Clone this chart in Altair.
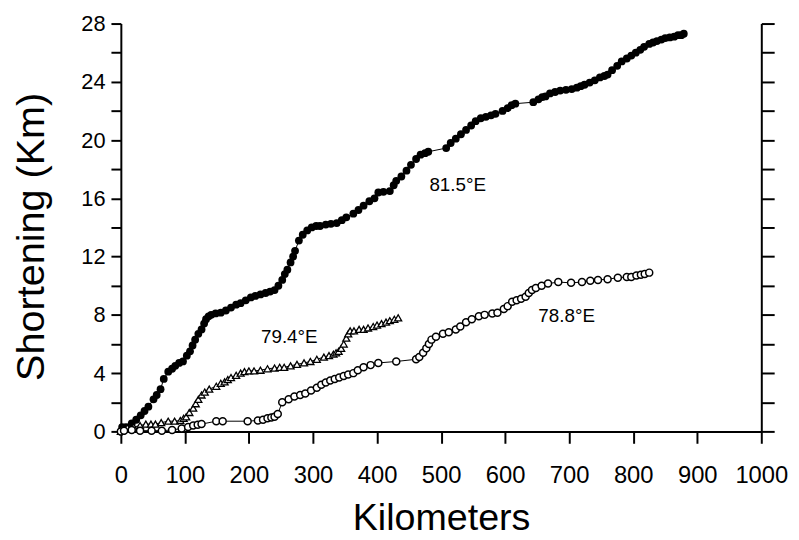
import altair as alt
import pandas as pd

FONT = "Liberation Sans"

# ---- 81.5°E (filled circles) ----
km_815 = [0, 2, 8, 17, 24, 31, 37, 43, 51, 56, 62, 67, 74, 80, 85, 91, 97, 103, 108, 112,
          116, 121, 126, 130, 133, 137, 141, 148, 156, 164, 172, 180, 187, 195, 203, 210,
          218, 226, 233, 240, 246, 252, 256, 260, 265, 269, 272, 278, 284, 291, 298, 305,
          311, 320, 328, 337, 345, 352, 363, 371, 379, 388, 396, 402, 410, 420, 426, 430,
          438, 446, 453, 461, 468, 475, 480, 508, 515, 523, 531, 539, 547, 554, 562, 570,
          578, 585, 596, 604, 610, 616, 644, 652, 658, 663, 670, 678, 686, 695, 704, 712,
          718, 724, 732, 740, 748, 755, 760, 767, 775, 782, 790, 797, 804, 811, 817, 825,
          831, 837, 844, 850, 857, 864, 870, 875, 879]
sh_815 = [0, 0.3, 0.3, 0.55, 0.8, 1.1, 1.4, 1.7, 2.2, 2.5, 2.9, 3.6, 4.1, 4.3, 4.5, 4.7, 4.8,
          5.2, 5.5, 5.9, 6.3, 6.7, 7.0, 7.4, 7.7, 7.9, 8.0, 8.1, 8.15, 8.3, 8.5, 8.7, 8.8,
          9.0, 9.2, 9.3, 9.4, 9.5, 9.6, 9.7, 10.0, 10.4, 10.8, 11.1, 11.6, 12.0, 12.4, 13.1,
          13.5, 13.8, 14.0, 14.1, 14.1, 14.2, 14.25, 14.3, 14.5, 14.7, 14.95, 15.2, 15.5,
          15.8, 16.0, 16.4, 16.45, 16.5, 16.9, 17.2, 17.5, 17.9, 18.3, 18.7, 19.0, 19.1,
          19.2, 19.45, 19.8, 20.1, 20.4, 20.7, 21.0, 21.3, 21.5, 21.6, 21.7, 21.8, 22.0,
          22.2, 22.4, 22.5, 22.6, 22.8, 22.95, 23.0, 23.2, 23.3, 23.4, 23.45, 23.5, 23.6,
          23.7, 23.8, 23.95, 24.1, 24.3, 24.4, 24.5, 24.8, 25.1, 25.4, 25.6, 25.8, 26.0,
          26.2, 26.4, 26.6, 26.7, 26.8, 26.9, 27.0, 27.05, 27.1, 27.2, 27.2, 27.3]

# ---- 79.4°E (open triangles) ----
km_794 = [0, 2, 10, 20, 30, 39, 47, 54, 63, 74, 84, 93, 98, 102, 107, 113, 117, 121, 126,
          131, 138, 149, 156, 162, 167, 172, 180, 187, 193, 200, 208, 218, 229, 240, 248,
          255, 265, 275, 286, 296, 306, 317, 325, 332, 336, 340, 344, 348, 352, 355, 358,
          364, 372, 379, 386, 394, 400, 407, 414, 420, 427, 433]
sh_794 = [0, 0.2, 0.25, 0.3, 0.4, 0.5, 0.5, 0.5, 0.6, 0.7, 0.7, 0.75, 0.9, 1.0, 1.3, 1.6,
          1.9, 2.2, 2.5, 2.7, 2.9, 3.1, 3.3, 3.4, 3.55, 3.7, 3.85, 4.0, 4.1, 4.15, 4.15, 4.2,
          4.3, 4.35, 4.4, 4.4, 4.5, 4.6, 4.7, 4.8, 4.95, 5.1, 5.2, 5.3, 5.4, 5.5, 5.7, 6.0,
          6.4, 6.7, 6.9, 6.9, 7.0, 7.0, 7.1, 7.2, 7.3, 7.4, 7.5, 7.6, 7.7, 7.8]

# ---- 78.8°E (open circles) ----
km_788 = [0, 5, 17, 30, 48, 64, 80, 95, 105, 113, 120, 126, 149, 159, 198, 214, 222, 229,
          235, 240, 245, 252, 262, 271, 280, 288, 297, 306, 313, 320, 327, 334, 341, 348,
          355, 363, 370, 379, 390, 402, 430, 461, 466, 472, 477, 481, 485, 492, 503, 512,
          523, 530, 539, 548, 559, 568, 580, 588, 598, 604, 611, 618, 625, 632, 637, 642,
          648, 657, 667, 683, 703, 720, 733, 745, 760, 776, 790, 797, 805, 812, 818, 825]
sh_788 = [0, 0.05, 0.1, 0.05, 0.05, 0.05, 0.1, 0.2, 0.3, 0.4, 0.45, 0.5, 0.7, 0.7, 0.7, 0.75,
          0.8, 0.9, 0.95, 1.0, 1.2, 2.0, 2.2, 2.4, 2.5, 2.6, 2.8, 3.0, 3.2, 3.35, 3.5, 3.6,
          3.7, 3.8, 3.9, 4.0, 4.2, 4.4, 4.55, 4.7, 4.8, 4.95, 5.1, 5.4, 5.7, 6.0, 6.3, 6.5,
          6.7, 6.8, 7.0, 7.2, 7.5, 7.7, 7.9, 8.0, 8.1, 8.15, 8.4, 8.6, 8.9, 9.0, 9.1, 9.25,
          9.5, 9.7, 9.85, 10.0, 10.15, 10.25, 10.2, 10.25, 10.35, 10.4, 10.45, 10.55, 10.6,
          10.6, 10.7, 10.75, 10.8, 10.9]

# ---- annotations ----
label_text = ["81.5°E", "79.4°E", "78.8°E"]
label_km = [526, 263, 696]
label_sh = [16.9, 6.45, 7.9]

x_ticks = list(range(0, 1001, 100))
y_ticks = list(range(0, 29, 2))


def frame(km, sh):
    return pd.DataFrame({"km": km, "sh": sh})


d815 = frame(km_815, sh_815)
d794 = frame(km_794, sh_794)
d788 = frame(km_788, sh_788)
dlab = pd.DataFrame({"km": label_km, "sh": label_sh, "t": label_text})

xscale = alt.Scale(domain=[0, 1000], nice=False, zero=False)
yscale = alt.Scale(domain=[0, 28], nice=False, zero=False)

x_axis = alt.Axis(
    values=x_ticks, title="Kilometers", grid=False, format="d",
    labelFont=FONT, labelFontSize=24, labelColor="black", labelPadding=21,
    labelFlush=False, labelOverlap=False,
    titleFont=FONT, titleFontSize=38, titleFontWeight="normal", titleColor="black",
    titleY=99, titleBaseline="alphabetic",
    tickSize=12, tickWidth=2, tickColor="black",
    domainWidth=2, domainColor="black",
)
y_axis = alt.Axis(
    values=y_ticks, title="Shortening (Km)", grid=False, format="d",
    labelExpr="datum.value % 4 == 0 ? datum.label : ''",
    labelFont=FONT, labelFontSize=22, labelColor="black", labelPadding=6,
    labelOverlap=False,
    titleFont=FONT, titleFontSize=40, titleFontWeight="normal", titleColor="black",
    titleX=-78, titleY=215, titleBaseline="alphabetic", titleAlign="center",
    tickSize=10, tickWidth=2, tickColor="black",
    domainWidth=2, domainColor="black",
)
y_axis_right = alt.Axis(
    values=y_ticks, title="", grid=False, labels=False, orient="right",
    tickSize=13, tickWidth=2, tickColor="black",
    domainWidth=2, domainColor="black",
)


def enc(chart):
    return chart.encode(
        x=alt.X("km:Q", scale=xscale, axis=x_axis),
        y=alt.Y("sh:Q", scale=yscale, axis=y_axis),
    )


layers = []
for d in [d815, d794, d788]:
    layers.append(enc(alt.Chart(d).mark_line(color="black", strokeWidth=1)))

layers.append(enc(alt.Chart(d815).mark_point(shape="circle", filled=True, color="black",
                                             size=62, opacity=1)))
layers.append(enc(alt.Chart(d794).mark_point(shape="triangle-up", filled=True, fill="white",
                                             stroke="black", strokeWidth=1.3, size=50,
                                             opacity=1)))
layers.append(enc(alt.Chart(d788).mark_point(shape="circle", filled=True, fill="white",
                                             stroke="black", strokeWidth=1.5, size=50,
                                             opacity=1)))
layers.append(enc(alt.Chart(dlab).mark_text(font=FONT, fontSize=19, color="black",
                                            align="center", baseline="middle")).encode(
    text="t:N"))

data_layer = alt.layer(*layers)

right_axis = alt.Chart(d815).mark_point(opacity=0).encode(
    x=alt.X("km:Q", scale=xscale, axis=x_axis),
    y=alt.Y("sh:Q", scale=yscale, axis=y_axis_right),
)

chart = alt.layer(data_layer, right_axis).resolve_scale(y="independent").properties(
    width=647, height=412,
    autosize=alt.AutoSizeParams(type="none"),
    padding={"left": 114, "top": 13, "right": 30, "bottom": 107},
    background="white",
).configure_view(stroke=None)

chart.save("out.html", embed_options={"renderer": "svg", "actions": False})
